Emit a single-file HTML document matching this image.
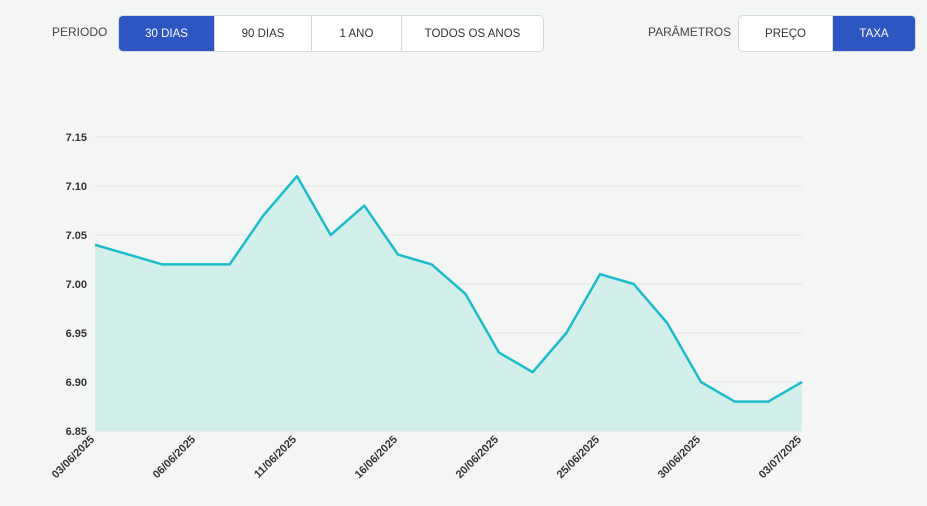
<!DOCTYPE html>
<html><head><meta charset="utf-8"><style>
body{margin:0;width:927px;height:506px;background:#f4f6f6;font-family:"Liberation Sans",sans-serif;overflow:hidden;position:relative}
.lbl{position:absolute;top:25px;font-size:12px;color:#444}
.grp{position:absolute;top:15px;height:35px;display:flex;border:1px solid #d6dadd;border-radius:5px;overflow:hidden;background:#fff}
.grp div{display:flex;align-items:center;justify-content:center;font-size:11.5px;color:#333;border-right:1px solid #d6dadd}
.grp div:last-child{border-right:none}
.grp .on{background:#2d56c2;color:#fff}
</style></head><body>
<div class="lbl" style="left:52px">PERIODO</div>
<div class="grp" style="left:118px;width:424px">
<div class="on" style="width:95px">30 DIAS</div>
<div style="width:96px">90 DIAS</div>
<div style="width:89px">1 ANO</div>
<div style="flex:1">TODOS OS ANOS</div>
</div>
<div class="lbl" style="left:648px">PARÂMETROS</div>
<div class="grp" style="left:738px;width:176px">
<div style="width:93px">PREÇO</div>
<div class="on" style="flex:1">TAXA</div>
</div>
<svg id="c" width="927" height="506" style="position:absolute;left:0;top:0"></svg>
<script>
const dates=["03/06/2025","04/06/2025","05/06/2025","06/06/2025","09/06/2025","10/06/2025","11/06/2025","12/06/2025","13/06/2025","16/06/2025","17/06/2025","18/06/2025","20/06/2025","23/06/2025","24/06/2025","25/06/2025","26/06/2025","27/06/2025","30/06/2025","01/07/2025","02/07/2025","03/07/2025"];
const values=[7.04,7.03,7.02,7.02,7.02,7.07,7.11,7.05,7.08,7.03,7.02,6.99,6.93,6.91,6.95,7.01,7.00,6.96,6.90,6.88,6.88,6.90];
const yTicks=["6.85","6.90","6.95","7.00","7.05","7.10","7.15"];
const labelIdx=[0,3,6,9,12,15,18,21];
const svg=document.getElementById('c'),NS="http://www.w3.org/2000/svg";
const x0=95,x1=802,yTop=137,yBot=431,vMin=6.85,vMax=7.15;
const X=i=>x0+(x1-x0)*i/(dates.length-1);
const Y=v=>yBot-(v-vMin)/(vMax-vMin)*(yBot-yTop);
function mk(t,a){const e=document.createElementNS(NS,t);for(const k in a)e.setAttribute(k,a[k]);svg.appendChild(e);return e;}
yTicks.forEach(t=>{const y=Y(+t);
const g=mk('line',{x1:x0,x2:x1,y1:y,y2:y,stroke:'#e0e3e5'});


const l=mk('text',{x:87,y:y+4,'text-anchor':'end','font-size':11,'font-weight':'bold',fill:'#333','font-family':'Liberation Sans'});l.textContent=t;

});
let pts=values.map((v,i)=>X(i)+','+Y(v)).join(' ');
const a=mk('polygon',{points:x0+','+yBot+' '+pts+' '+x1+','+yBot,fill:'#d3efec'});


const ln=mk('polyline',{points:pts,fill:'none',stroke:'#1dbccb','stroke-width':2.5,'stroke-linejoin':'round'});


labelIdx.forEach(i=>{const x=X(i);
const t=mk('text',{x:x,y:440,'text-anchor':'end','font-size':11,'font-weight':'bold',fill:'#333','font-family':'Liberation Sans',transform:`rotate(-45 ${x} 440)`});t.textContent=dates[i];

});
</script>
</body></html>
